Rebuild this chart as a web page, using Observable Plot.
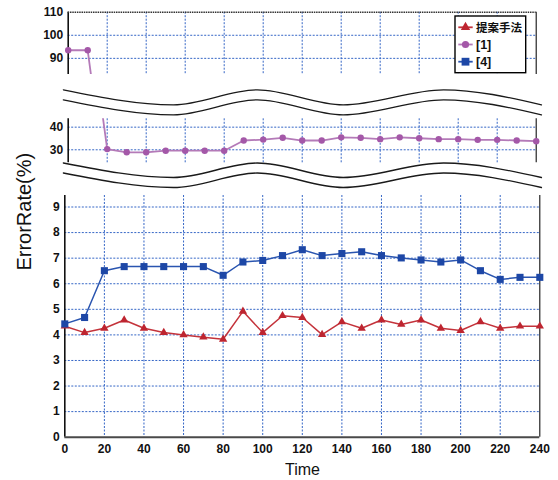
<!DOCTYPE html>
<html><head><meta charset="utf-8">
<script src="https://cdn.jsdelivr.net/npm/d3@7"></script>
<script src="https://cdn.jsdelivr.net/npm/@observablehq/plot@0.6"></script>
<style>
body{margin:0;background:#fff;}
#chart{position:relative;width:558px;height:480px;overflow:hidden;background:#fff;font-family:"Liberation Sans",Arial,sans-serif;}
#chart > svg{position:absolute;left:0;}
</style></head><body><div id="chart"></div>
<script>
// ---- data ----
const time = [0,10,20,30,40,50,60,70,80,90,100,110,120,130,140,150,160,170,180,190,200,210,220,230,240];
const proposed = [4.34,4.09,4.26,4.58,4.26,4.09,4.00,3.91,3.83,4.92,4.09,4.75,4.68,4.01,4.51,4.26,4.58,4.41,4.58,4.26,4.17,4.51,4.26,4.34,4.34];
const ref1 = [93.5,93.5,30.3,28.9,28.9,29.6,29.6,29.6,29.6,34.1,34.5,35.3,34.1,34.1,35.5,35.3,34.7,35.5,35.1,34.7,34.7,34.4,34.4,34.1,33.8];
const ref4 = [4.43,4.68,6.51,6.67,6.67,6.67,6.67,6.67,6.33,6.85,6.91,7.10,7.33,7.10,7.18,7.25,7.10,7.01,6.93,6.85,6.93,6.51,6.17,6.25,6.25];
const seriesNames = ["提案手法","[1]","[4]"];
const seriesData = [proposed, ref1, ref4];
const markColors = ["#be2530","#a458a8","#1d47a6"];
const lineColors = ["#c4333b","#b47ab8","#2a55b0"];
const symbols = ["triangle","circle","square"];
const symbolR = [3.1,3.2,4.0];
const xTicks = [0,20,40,60,80,100,120,140,160,180,200,220,240];
const topTicks = [90,100,110];
const midTicks = [30,40];
const botTicks = [0,1,2,3,4,5,6,7,8,9];
const topDomain = [83,110], midDomain = [24.25,43.7], botDomain = [0,9.45];
const xDomain = [0,240];
// break wave shape (time positions of crests/troughs)
const waveT = [-2.5,54,97,141,192.5,242.7];
const wavePhase = [0,1,0,1,0,1];

const GRID = "#3566c6";
const FONT = "Liberation Sans, Arial, sans-serif";
const chart = document.getElementById("chart");
const rows = s => time.map((t,i)=>({t, v:s[i]}));

function panel({top, height, mt, mb, ml, mr, domain, ticks, xAxis, topLine}) {
  const inner = v => v > domain[0] + 1e-9 && v < domain[1] - 1e-9;
  const marks = [
    Plot.gridX(xTicks.filter(d => d > 0 && d < 240), {stroke: GRID, strokeOpacity: 1, strokeWidth: 1, strokeDasharray: "2,1.5"}),
    Plot.gridY(ticks.filter(inner), {stroke: GRID, strokeOpacity: 1, strokeWidth: 1, strokeDasharray: "2,1.5"}),
    Plot.ruleX([0], {stroke: "#111", strokeWidth: 1.6}),
    Plot.ruleX([240], {stroke: "#111", strokeWidth: 1.1}),
    Plot.axisY({ticks, tickSize: 0, tickPadding: 5, fontSize: 12, fontWeight: "bold", fill: "#111", label: null, tickFormat: d => String(d)})
  ];
  if (topLine) marks.push(Plot.ruleY([domain[1]], {stroke: "#333", strokeWidth: 1.6, strokeDasharray: "1.5,0.8"}));
  if (xAxis) {
    marks.push(Plot.ruleY([0], {stroke: "#4a4a4a", strokeWidth: 2}));
    marks.push(Plot.axisX({ticks: xTicks, tickSize: 0, tickPadding: 7, fontSize: 12, fontWeight: "bold", fill: "#111", label: null, tickFormat: d => String(d)}));
  }
  seriesData.forEach((s,k) => {
    marks.push(Plot.line(rows(s), {x: "t", y: "v", stroke: lineColors[k], strokeWidth: k === 1 ? 1.8 : 1.5, clip: true}));
  });
  seriesData.forEach((s,k) => {
    const pts = rows(s).filter(d => d.v >= domain[0] && d.v <= domain[1]);
    marks.push(Plot.dot(pts, {x: "t", y: "v", symbol: symbols[k], r: symbolR[k], fill: markColors[k], stroke: "none"}));
  });
  const svg = Plot.plot({
    width: 558, height, marginTop: mt, marginBottom: mb, marginLeft: ml, marginRight: mr,
    x: {domain: xDomain, axis: xAxis ? undefined : null, label: null},
    y: {domain, label: null},
    style: {background: "transparent", fontFamily: FONT, overflow: "visible"},
    marks
  });
  svg.style.top = top + "px";
  chart.appendChild(svg);
}

function breakPlot({top, height, mt, mb, gap}) {
  const data = [];
  [0, gap].forEach((off, k) => waveT.forEach((t,i) => data.push({t, p: wavePhase[i] + off, k})));
  const svg = Plot.plot({
    width: 558, height, marginTop: mt, marginBottom: mb, marginLeft: 67.7, marginRight: 22.3,
    x: {domain: xDomain, axis: null}, y: {domain: [0,1], reverse: true, axis: null},
    style: {background: "transparent", overflow: "visible"},
    marks: [Plot.line(data, {x: "t", y: "p", z: "k", curve: "monotone-x", stroke: "#1a1a1a", strokeWidth: 1.3})]
  });
  svg.style.top = top + "px";
  chart.appendChild(svg);
}

panel({top: 0, height: 80, mt: 11.7, mb: 6, ml: 67.7, mr: 22.3, domain: topDomain, ticks: topTicks, xAxis: false, topLine: true});
breakPlot({top: 82, height: 36, mt: 7.3, mb: 13.7, gap: 0.667});
panel({top: 112, height: 56, mt: 6.3, mb: 5.7, ml: 67.7, mr: 22.3, domain: midDomain, ticks: midTicks, xAxis: false, topLine: false});
breakPlot({top: 158, height: 34, mt: 4.5, mb: 15, gap: 0.69});
panel({top: 188, height: 292, mt: 7, mb: 43.3, ml: 64.3, mr: 18.7, domain: botDomain, ticks: botTicks, xAxis: true, topLine: false});

// ---- overlay: axis titles and legend ----
const ov = d3.select(chart).append("svg").attr("width", 558).attr("height", 480).style("top", "0px").style("pointer-events", "none");
ov.append("text").attr("transform", "translate(30.5,211.7) rotate(-90)").attr("text-anchor", "middle")
  .attr("font-family", FONT).attr("font-size", 20).attr("fill", "#111").text("ErrorRate(%)");
ov.append("text").attr("x", 302.5).attr("y", 475).attr("text-anchor", "middle")
  .attr("font-family", FONT).attr("font-size", 16).attr("fill", "#111").text("Time");

const lg = ov.append("g").attr("transform", "translate(455,16)");
lg.append("rect").attr("width", 70.7).attr("height", 56.7).attr("fill", "#fff").attr("stroke", "#000").attr("stroke-width", 1.4);
const d3sym = [d3.symbolTriangle, d3.symbolCircle, d3.symbolSquare];
seriesNames.forEach((name, i) => {
  const cy = 11.3 + i * 17.2;
  lg.append("line").attr("x1", 3.3).attr("x2", 17.7).attr("y1", cy).attr("y2", cy).attr("stroke", lineColors[i]).attr("stroke-width", 1.8);
  lg.append("path").attr("transform", `translate(10.5,${cy})`).attr("d", d3.symbol(d3sym[i], Math.PI * (symbolR[i] + 0.4) ** 2)()).attr("fill", markColors[i]);
  lg.append("text").attr("x", 21).attr("y", cy + 4.4)
    .attr("font-family", i === 0 ? "Noto Sans CJK JP, Liberation Sans, sans-serif" : FONT)
    .attr("font-weight", "bold").attr("font-size", i === 0 ? 11.5 : 12.5).attr("fill", "#111").text(name);
});
</script>
</body></html>
